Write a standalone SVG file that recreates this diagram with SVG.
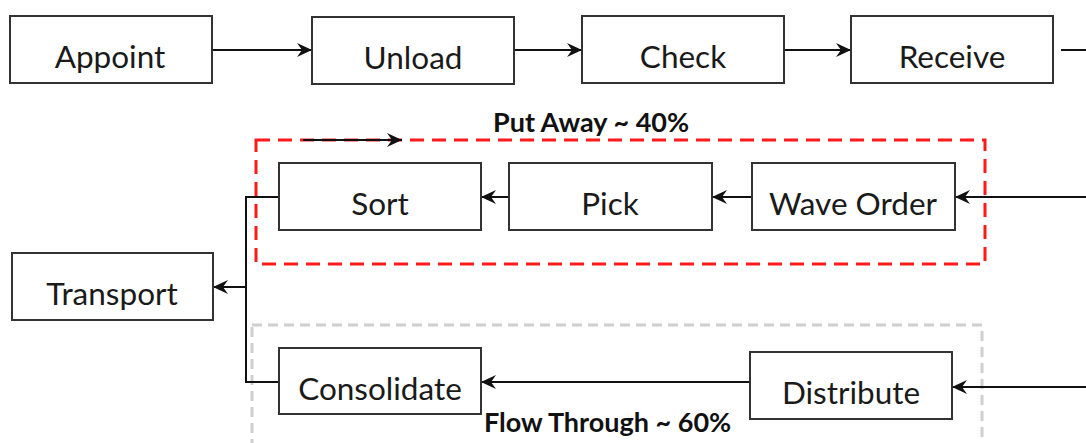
<svg xmlns="http://www.w3.org/2000/svg" width="1086" height="443" viewBox="0 0 1086 443">
<defs>
<style>
.box{fill:#fff;stroke:#333;stroke-width:2}
.lbl{font-family:Lato,"Liberation Sans",sans-serif;font-size:31.5px;fill:#1a1a1a;text-anchor:middle}
.grp{font-family:Lato,"Liberation Sans",sans-serif;font-size:27px;font-weight:bold;fill:#111}
.con{fill:none;stroke:#111;stroke-width:2}
.arr{marker-end:url(#ah)}
</style>
<marker id="ah" markerUnits="userSpaceOnUse" markerWidth="16" markerHeight="16" refX="15" refY="8" orient="auto">
<path d="M0,1 L15,8 L0,15 L5,8 z" fill="#111"/>
</marker>
</defs>
<rect width="1086" height="443" fill="#fff"/>
<g id="group-flowthrough">
<rect x="252" y="325" width="730" height="140" fill="none" stroke="#cfcfcf" stroke-width="3" stroke-dasharray="10,6"/>
<text class="grp" x="484" y="432">Flow Through ~ 60%</text>
</g>
<g id="group-putaway">
<rect x="256" y="140" width="729" height="124" fill="none" stroke="#ff1a1a" stroke-width="3" stroke-dasharray="14,8"/>
<text class="grp" x="493" y="132">Put Away ~ 40%</text>
</g>
<g id="connectors">
<line class="con arr" x1="212" y1="50" x2="312" y2="50"/>
<line class="con arr" x1="514" y1="50" x2="582" y2="50"/>
<line class="con arr" x1="784" y1="50" x2="851" y2="50"/>
<line class="con" x1="1061" y1="50" x2="1086" y2="50"/>
<line class="con arr" x1="303" y1="140" x2="402" y2="140"/>
<line class="con arr" x1="1086" y1="197" x2="955" y2="197"/>
<line class="con arr" x1="752" y1="197" x2="712" y2="197"/>
<line class="con arr" x1="509" y1="197" x2="481" y2="197"/>
<polyline class="con" points="279,197 246,197 246,382 279,382"/>
<line class="con arr" x1="246" y1="287" x2="213" y2="287"/>
<line class="con arr" x1="750" y1="382" x2="481" y2="382"/>
<line class="con arr" x1="1086" y1="387" x2="952" y2="387"/>
</g>
<g id="appoint"><rect class="box" x="10" y="16" width="202" height="67"/><text class="lbl" x="110" y="68">Appoint</text></g>
<g id="unload"><rect class="box" x="312" y="17" width="202" height="67"/><text class="lbl" x="413" y="69">Unload</text></g>
<g id="check"><rect class="box" x="582" y="16" width="202" height="67"/><text class="lbl" x="683" y="68">Check</text></g>
<g id="receive"><rect class="box" x="851" y="16" width="202" height="67"/><text class="lbl" x="952" y="68">Receive</text></g>
<g id="sort"><rect class="box" x="279" y="163" width="202" height="67"/><text class="lbl" x="380" y="215">Sort</text></g>
<g id="pick"><rect class="box" x="509" y="163" width="203" height="67"/><text class="lbl" x="610" y="215">Pick</text></g>
<g id="wave-order"><rect class="box" x="752" y="163" width="203" height="67"/><text class="lbl" x="853" y="215">Wave Order</text></g>
<g id="transport"><rect class="box" x="12" y="253" width="201" height="67"/><text class="lbl" x="112" y="305">Transport</text></g>
<g id="consolidate"><rect class="box" x="279" y="348" width="202" height="66"/><text class="lbl" x="380" y="400">Consolidate</text></g>
<g id="distribute"><rect class="box" x="750" y="352" width="202" height="67"/><text class="lbl" x="851" y="404">Distribute</text></g>
</svg>
